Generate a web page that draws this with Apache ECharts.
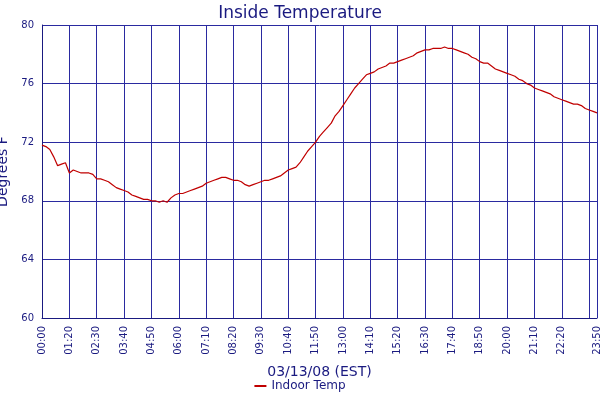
<!DOCTYPE html>
<html><head><meta charset="utf-8">
<script src="https://cdn.jsdelivr.net/npm/echarts@6/dist/echarts.min.js"></script>
<style>body{margin:0;background:#fff}#c{width:600px;height:400px}</style>
</head><body><div id="c"></div>
<script>
var navy = '#1a1a80';
// sample times: first reading 00:00, then every 10 min from 00:20
var times = ['00:00'];
for (var m = 20; m <= 1430; m += 10) {
	times.push(('0' + Math.floor(m / 60)).slice(-2) + ':' + ('0' + m % 60).slice(-2));
}
var temps = [
	71.8,71.7,71.5,71.0,70.4,70.5,70.6,69.9,70.1,70.0,
	69.9,69.9,69.9,69.8,69.5,69.5,69.4,69.3,69.1,68.9,
	68.8,68.7,68.6,68.4,68.3,68.2,68.1,68.1,68.0,68.0,
	67.9,68.0,67.9,68.2,68.4,68.5,68.5,68.6,68.7,68.8,
	68.9,69.0,69.2,69.3,69.4,69.5,69.6,69.6,69.5,69.4,
	69.4,69.3,69.1,69.0,69.1,69.2,69.3,69.4,69.4,69.5,
	69.6,69.7,69.9,70.1,70.2,70.3,70.6,71.0,71.4,71.7,
	72.0,72.4,72.7,73.0,73.3,73.8,74.1,74.5,74.9,75.3,
	75.7,76.0,76.3,76.6,76.7,76.8,77.0,77.1,77.2,77.4,
	77.4,77.5,77.6,77.7,77.8,77.9,78.1,78.2,78.3,78.3,
	78.4,78.4,78.4,78.5,78.4,78.4,78.3,78.2,78.1,78.0,
	77.8,77.7,77.5,77.4,77.4,77.2,77.0,76.9,76.8,76.7,
	76.6,76.5,76.3,76.2,76.0,75.9,75.7,75.6,75.5,75.4,
	75.3,75.1,75.0,74.9,74.8,74.7,74.6,74.6,74.5,74.3,
	74.2,74.1,74.0
];
var last = temps.length - 1;
function tickAt(i) { return i % 7 === 0 || i === last; }

var chart = echarts.init(document.getElementById('c'));
chart.setOption({
	animation: false,
	title: { text: 'Inside Temperature', left: 'center', top: 0,
		textStyle: { color: navy, fontFamily: 'DejaVu Sans', fontSize: 17, fontWeight: 'normal' } },
	legend: { bottom: 3, data: ['Indoor Temp'], icon: 'rect', itemWidth: 12, itemHeight: 2,
		textStyle: { color: navy, fontFamily: 'DejaVu Sans', fontSize: 12 } },
	grid: { left: 42, right: 3, top: 25, bottom: 82, outerBoundsMode: 'none', containLabel: false },
	xAxis: {
		type: 'category', data: times.slice(0, temps.length), boundaryGap: false,
		name: '03/13/08 (EST)', nameLocation: 'middle', nameGap: 47,
		nameTextStyle: { color: navy, fontFamily: 'DejaVu Sans', fontSize: 14 },
		axisLine: { lineStyle: { color: navy } },
		axisTick: { show: false },
		axisLabel: { interval: function (i) { return tickAt(i); }, rotate: 90, color: navy,
			fontFamily: 'DejaVu Sans', fontSize: 10, showMaxLabel: true, hideOverlap: false },
		splitLine: { show: true, interval: function (i) { return tickAt(i); },
			lineStyle: { color: '#2a2aa0', width: 1 } }
	},
	yAxis: {
		type: 'value', min: 60, max: 80, interval: 4,
		name: 'Degrees F', nameLocation: 'middle', nameGap: 28,
		nameTextStyle: { color: navy, fontFamily: 'DejaVu Sans', fontSize: 14 },
		axisLine: { show: true, lineStyle: { color: navy } },
		axisTick: { show: false },
		axisLabel: { color: navy, fontFamily: 'DejaVu Sans', fontSize: 10 },
		splitLine: { lineStyle: { color: '#2a2aa0', width: 1 } }
	},
	series: [{
		name: 'Indoor Temp', type: 'line', data: temps, showSymbol: false,
		itemStyle: { color: '#c00000' }, lineStyle: { color: '#c00000', width: 1.2 }
	}]
});
</script></body></html>
